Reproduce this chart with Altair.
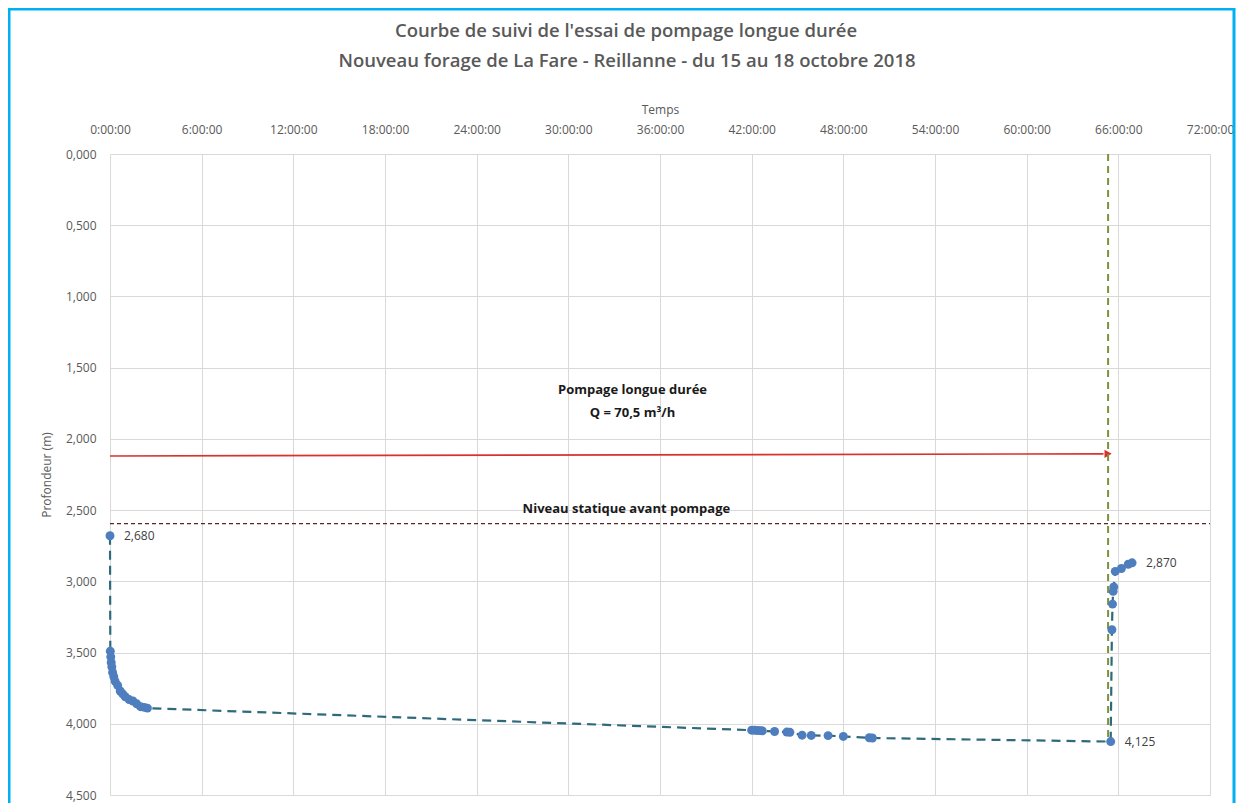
import altair as alt
import pandas as pd

# ---- data ----
hours = [0.0, 0.02, 0.05, 0.08, 0.12, 0.17, 0.25, 0.33, 0.5, 0.67, 0.83, 1.0,
         1.25, 1.5, 1.75, 2.0, 2.25, 2.45,
         42.0, 42.2, 42.4, 42.6, 42.7, 43.5, 44.3, 44.5, 45.3, 45.9, 47.0, 48.0,
         49.7, 49.9,
         65.5, 65.58, 65.62, 65.66, 65.7, 65.8, 66.2, 66.65, 66.9]
depth = [2.680, 3.49, 3.53, 3.57, 3.60, 3.64, 3.67, 3.70, 3.73, 3.77, 3.79, 3.81,
         3.83, 3.84, 3.86, 3.88, 3.885, 3.89,
         4.045, 4.046, 4.047, 4.048, 4.05, 4.054, 4.058, 4.06, 4.08, 4.082, 4.083, 4.089,
         4.098, 4.10,
         4.125, 3.34, 3.16, 3.07, 3.04, 2.93, 2.91, 2.88, 2.87]

label_hours = [0.0, 65.5, 66.9]
label_depth = [2.680, 4.125, 2.870]
label_text = ["2,680", "4,125", "2,870"]

static_level = 2.595          # niveau statique avant pompage
pump_start, pump_end = 0.0, 65.33
arrow_depth_start, arrow_depth_end = 2.12, 2.105

note_hours = [34.2, 34.2, 33.8]
note_depth = [1.66, 1.82, 2.49]
note_text = ["Pompage longue durée", "Q = 70,5 m³/h", "Niveau statique avant pompage"]

title_lines = ["Courbe de suivi de l'essai de pompage longue durée",
               "Nouveau forage de La Fare - Reillanne - du 15 au 18 octobre 2018"]

x_ticks = list(range(0, 73, 6))
y_ticks = [i * 0.5 for i in range(10)]

# ---- tables ----
df = pd.DataFrame({"t": hours, "d": depth, "i": range(len(hours))})
labels = pd.DataFrame({"t": label_hours, "d": label_depth, "txt": label_text})
notes = pd.DataFrame({"t": note_hours, "d": note_depth, "txt": note_text})
static_df = pd.DataFrame({"t": [0.0], "t1": [72.0], "d": [static_level]})
arrow_df = pd.DataFrame({"t": [pump_start], "t1": [pump_end - 0.3],
                         "d": [arrow_depth_start], "d1": [arrow_depth_end]})
head_df = pd.DataFrame({"t": [pump_end], "d": [arrow_depth_end]})
vline_df = pd.DataFrame({"t": [pump_end], "d": [0.0], "d1": [4.1]})
frame_df = pd.DataFrame({"k": [0]})
title1_df = pd.DataFrame({"txt": [title_lines[0]]})
title2_df = pd.DataFrame({"txt": [title_lines[1]]})

GRID = "#D9D9D9"
TXT = "#595959"
FONT = "Open Sans"

x_axis = alt.Axis(orient="top", values=x_ticks, labelExpr="datum.value + ':00:00'",
                  title="Temps", grid=True, gridColor=GRID, domain=False, ticks=False,
                  labelFlush=False,
                  labelPadding=18, titlePadding=7, labelFontSize=12, titleFontSize=12,
                  labelColor=TXT, titleColor=TXT, labelFont=FONT, titleFont=FONT,
                  titleFontWeight="normal")
y_axis = alt.Axis(values=y_ticks, labelExpr="replace(format(datum.value, '.3f'), '.', ',')",
                  title="Profondeur (m)", grid=True, gridColor=GRID, domain=False, ticks=False,
                  labelFlush=False,
                  labelPadding=14, titlePadding=12, labelFontSize=12, titleFontSize=12,
                  labelColor=TXT, titleColor=TXT, labelFont=FONT, titleFont=FONT,
                  titleFontWeight="normal")
xs = alt.Scale(domain=[0, 72], nice=False, zero=False)
ys = alt.Scale(domain=[0, 4.5], reverse=True, nice=False)

X = alt.X("t:Q", scale=xs, axis=x_axis)
Y = alt.Y("d:Q", scale=ys, axis=y_axis)

frame = alt.Chart(frame_df).mark_rect(fill="transparent", stroke="#00B0F0", strokeWidth=3).encode(
    x=alt.value(-101), x2=alt.value(1124), y=alt.value(-145), y2=alt.value(700))

title1 = alt.Chart(title1_df).mark_text(fontSize=18.5, font=FONT, fontWeight=600, color=TXT,
                                        align="center", baseline="middle").encode(
    x=alt.value(516), y=alt.value(-123), text="txt:N")
title2 = alt.Chart(title2_df).mark_text(fontSize=18.5, font=FONT, fontWeight=600, color=TXT,
                                        align="center", baseline="middle").encode(
    x=alt.value(517), y=alt.value(-93), text="txt:N")

static = alt.Chart(static_df).mark_rule(color="#5A2626", strokeWidth=1.2, strokeDash=[4, 3]).encode(
    x=X, x2="t1:Q", y=Y)

arrow = alt.Chart(arrow_df).mark_rule(color="#D7322D", strokeWidth=1.6).encode(
    x=X, x2="t1:Q", y=Y, y2="d1:Q")
head = alt.Chart(head_df).mark_point(shape="triangle-right", filled=True, size=70,
                                     color="#D7322D", opacity=1).encode(x=X, y=Y)

vline = alt.Chart(vline_df).mark_rule(color="#7A923A", strokeWidth=2, strokeDash=[7, 5]).encode(
    x=X, y=Y, y2="d1:Q")

line = alt.Chart(df).mark_line(color="#2E6A7C", strokeWidth=2.2, strokeDash=[9, 6]).encode(
    x=X, y=Y, order="i:Q")
pts = alt.Chart(df).mark_circle(size=80, color="#4E7EBD", opacity=1).encode(x=X, y=Y)

lbl = alt.Chart(labels).mark_text(align="left", dx=14, fontSize=12, font=FONT, color="#404040").encode(
    x=X, y=Y, text="txt:N")

note = alt.Chart(notes).mark_text(fontSize=13, font=FONT, fontWeight="bold", color="#1A1A1A").encode(
    x=X, y=Y, text="txt:N")

chart = alt.layer(frame, title1, title2, static, arrow, head, vline, line, pts, lbl, note).properties(
    width=1100, height=641,
    autosize=alt.AutoSizeParams(type="none"),
    padding={"left": 102, "top": 146, "right": 26, "bottom": 8},
).configure_view(stroke=None)

chart.save("out.html", embed_options={"renderer": "svg", "actions": False})
